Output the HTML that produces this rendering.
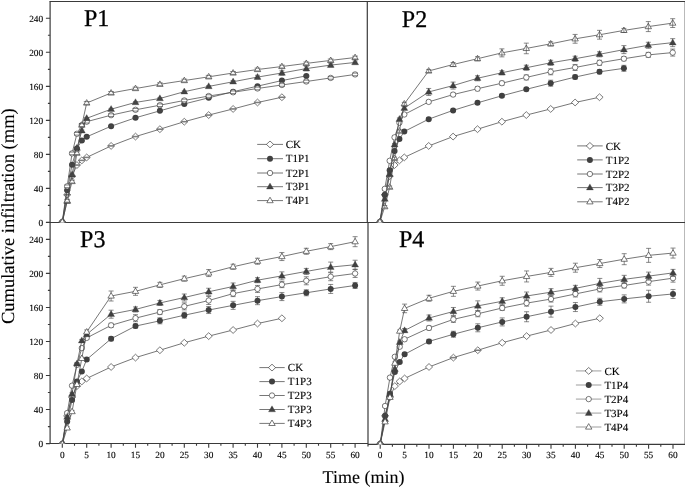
<!DOCTYPE html>
<html><head><meta charset="utf-8"><title>Cumulative infiltration</title>
<style>
html,body{margin:0;padding:0;background:#fff;}
body{width:685px;height:487px;overflow:hidden;font-family:"Liberation Serif",serif;}
svg{display:block;filter:grayscale(1);}
text{text-rendering:geometricPrecision;}
</style></head><body>
<svg width="685" height="487" viewBox="0 0 685 487">
<rect width="685" height="487" fill="#fff"/>
<g opacity="0.999">
<defs>
<clipPath id="c1"><rect x="50" y="1" width="317.3" height="221.5"/></clipPath>
<clipPath id="c2"><rect x="367.3" y="1" width="318" height="221.5"/></clipPath>
<clipPath id="c3"><rect x="50" y="222.5" width="318" height="221.0"/></clipPath>
<clipPath id="c4"><rect x="368" y="222.5" width="317" height="221.95"/></clipPath>
</defs>
<g stroke="#3a3a3a" stroke-width="1.2" fill="none">
<path d="M49.5 1.5H685"/>
<path d="M49.5 222.5H685"/>
<path d="M50.1 1.5V444.1"/>
<path d="M367.3 1.5V222.5"/>
<path d="M368 222.5V446.6"/>
<path d="M49.5 443.5H368"/>
<path d="M368 444.45H685"/>
<path d="M685.25 1.5V445"/>
</g>
<path d="M45.9 222.4H50.1M47.9 205.39H50.1M45.9 188.38H50.1M47.9 171.38H50.1M45.9 154.37H50.1M47.9 137.36H50.1M45.9 120.35H50.1M47.9 103.34H50.1M45.9 86.34H50.1M47.9 69.33H50.1M45.9 52.32H50.1M47.9 35.31H50.1M45.9 18.3H50.1M45.9 443.6H50.1M47.9 426.58H50.1M45.9 409.56H50.1M47.9 392.54H50.1M45.9 375.52H50.1M47.9 358.5H50.1M45.9 341.48H50.1M47.9 324.46H50.1M45.9 307.44H50.1M47.9 290.42H50.1M45.9 273.4H50.1M47.9 256.38H50.1M45.9 239.36H50.1M62.3 443.5V447.8M74.5 443.5V445.8M86.7 443.5V447.8M98.9 443.5V445.8M111.1 443.5V447.8M123.3 443.5V445.8M135.5 443.5V447.8M147.7 443.5V445.8M159.9 443.5V447.8M172.1 443.5V445.8M184.3 443.5V447.8M196.5 443.5V445.8M208.7 443.5V447.8M220.9 443.5V445.8M233.1 443.5V447.8M245.3 443.5V445.8M257.5 443.5V447.8M269.7 443.5V445.8M281.9 443.5V447.8M294.1 443.5V445.8M306.3 443.5V447.8M318.5 443.5V445.8M330.7 443.5V447.8M342.9 443.5V445.8M355.1 443.5V447.8M380.2 444.45V448.75M392.4 444.45V446.75M404.6 444.45V448.75M416.8 444.45V446.75M429 444.45V448.75M441.2 444.45V446.75M453.4 444.45V448.75M465.6 444.45V446.75M477.8 444.45V448.75M490 444.45V446.75M502.2 444.45V448.75M514.4 444.45V446.75M526.6 444.45V448.75M538.8 444.45V446.75M551 444.45V448.75M563.2 444.45V446.75M575.4 444.45V448.75M587.6 444.45V446.75M599.8 444.45V448.75M612 444.45V446.75M624.2 444.45V448.75M636.4 444.45V446.75M648.6 444.45V448.75M660.8 444.45V446.75M673 444.45V448.75" stroke="#3a3a3a" stroke-width="1.1" fill="none"/>
<g font-family="'Liberation Serif', serif" font-size="9.3" fill="#000" stroke="#000" stroke-width="0.12">
<text x="43.1" y="225.7" text-anchor="end">0</text>
<text x="43.1" y="191.68" text-anchor="end">40</text>
<text x="43.1" y="157.67" text-anchor="end">80</text>
<text x="43.1" y="123.65" text-anchor="end">120</text>
<text x="43.1" y="89.64" text-anchor="end">160</text>
<text x="43.1" y="55.62" text-anchor="end">200</text>
<text x="43.1" y="21.6" text-anchor="end">240</text>
<text x="43.1" y="446.9" text-anchor="end">0</text>
<text x="43.1" y="412.86" text-anchor="end">40</text>
<text x="43.1" y="378.82" text-anchor="end">80</text>
<text x="43.1" y="344.78" text-anchor="end">120</text>
<text x="43.1" y="310.74" text-anchor="end">160</text>
<text x="43.1" y="276.7" text-anchor="end">200</text>
<text x="43.1" y="242.66" text-anchor="end">240</text>
<text x="62.3" y="458.0" text-anchor="middle">0</text>
<text x="86.7" y="458.0" text-anchor="middle">5</text>
<text x="111.1" y="458.0" text-anchor="middle">10</text>
<text x="135.5" y="458.0" text-anchor="middle">15</text>
<text x="159.9" y="458.0" text-anchor="middle">20</text>
<text x="184.3" y="458.0" text-anchor="middle">25</text>
<text x="208.7" y="458.0" text-anchor="middle">30</text>
<text x="233.1" y="458.0" text-anchor="middle">35</text>
<text x="257.5" y="458.0" text-anchor="middle">40</text>
<text x="281.9" y="458.0" text-anchor="middle">45</text>
<text x="306.3" y="458.0" text-anchor="middle">50</text>
<text x="330.7" y="458.0" text-anchor="middle">55</text>
<text x="355.1" y="458.0" text-anchor="middle">60</text>
<text x="380.2" y="458.4" text-anchor="middle">0</text>
<text x="404.6" y="458.4" text-anchor="middle">5</text>
<text x="429" y="458.4" text-anchor="middle">10</text>
<text x="453.4" y="458.4" text-anchor="middle">15</text>
<text x="477.8" y="458.4" text-anchor="middle">20</text>
<text x="502.2" y="458.4" text-anchor="middle">25</text>
<text x="526.6" y="458.4" text-anchor="middle">30</text>
<text x="551" y="458.4" text-anchor="middle">35</text>
<text x="575.4" y="458.4" text-anchor="middle">40</text>
<text x="599.8" y="458.4" text-anchor="middle">45</text>
<text x="624.2" y="458.4" text-anchor="middle">50</text>
<text x="648.6" y="458.4" text-anchor="middle">55</text>
<text x="673" y="458.4" text-anchor="middle">60</text>
</g>
<g clip-path="url(#c1)">
<path d="M62.3 222L67.18 194.8L72.06 176.1L76.94 165.05L81.82 160.38L86.7 157.4L111.1 145.93L135.5 136.57L159.9 129.18L184.3 121.7L208.7 115.07L233.1 108.95L257.5 102.49L281.9 97.22" fill="none" stroke="#4a4a4a" stroke-width="0.75" stroke-linejoin="round"/>
<path d="M58.7 222L62.3 218.6L65.9 222L62.3 225.4Z" fill="#fff" stroke="#404040" stroke-width="0.7"/>
<path d="M63.58 194.8L67.18 191.4L70.78 194.8L67.18 198.2Z" fill="#fff" stroke="#404040" stroke-width="0.7"/>
<path d="M68.46 176.1L72.06 172.7L75.66 176.1L72.06 179.5Z" fill="#fff" stroke="#404040" stroke-width="0.7"/>
<path d="M73.34 165.05L76.94 161.65L80.54 165.05L76.94 168.45Z" fill="#fff" stroke="#404040" stroke-width="0.7"/>
<path d="M78.22 160.38L81.82 156.97L85.42 160.38L81.82 163.78Z" fill="#fff" stroke="#404040" stroke-width="0.7"/>
<path d="M83.1 157.4L86.7 154L90.3 157.4L86.7 160.8Z" fill="#fff" stroke="#404040" stroke-width="0.7"/>
<path d="M107.5 145.93L111.1 142.53L114.7 145.93L111.1 149.33Z" fill="#fff" stroke="#404040" stroke-width="0.7"/>
<path d="M131.9 136.57L135.5 133.17L139.1 136.57L135.5 139.97Z" fill="#fff" stroke="#404040" stroke-width="0.7"/>
<path d="M156.3 129.18L159.9 125.78L163.5 129.18L159.9 132.58Z" fill="#fff" stroke="#404040" stroke-width="0.7"/>
<path d="M180.7 121.7L184.3 118.3L187.9 121.7L184.3 125.1Z" fill="#fff" stroke="#404040" stroke-width="0.7"/>
<path d="M205.1 115.07L208.7 111.67L212.3 115.07L208.7 118.47Z" fill="#fff" stroke="#404040" stroke-width="0.7"/>
<path d="M229.5 108.95L233.1 105.55L236.7 108.95L233.1 112.35Z" fill="#fff" stroke="#404040" stroke-width="0.7"/>
<path d="M253.9 102.49L257.5 99.09L261.1 102.49L257.5 105.89Z" fill="#fff" stroke="#404040" stroke-width="0.7"/>
<path d="M278.3 97.22L281.9 93.82L285.5 97.22L281.9 100.62Z" fill="#fff" stroke="#404040" stroke-width="0.7"/>
<path d="M59.4 221.7H65.2M59.4 222.3H65.2M64.28 194.5H70.08M64.28 195.1H70.08M69.16 175.8H74.96M69.16 176.4H74.96M74.04 164.75H79.84M74.04 165.35H79.84M78.92 160.07H84.72M78.92 160.68H84.72M83.8 157.1H89.6M83.8 157.7H89.6M108.2 145.62H114M108.2 146.23H114M132.6 136.27H138.4M132.6 136.88H138.4M157 128.88H162.8M157 129.48H162.8M181.4 121.4H187.2M181.4 122H187.2M205.8 114.77H211.6M205.8 115.37H211.6M230.2 108.65H236M230.2 109.25H236M254.6 102.19H260.4M254.6 102.79H260.4M279 96.92H284.8M279 97.52H284.8" fill="none" stroke="#4a4a4a" stroke-width="0.65"/>
<path d="M62.3 222L67.18 190.3L72.06 164.71L76.94 148.39L81.82 140.57L86.7 136.83L111.1 126.2L135.5 117.79L159.9 110.82L184.3 103.94L208.7 97.82L233.1 91.69L257.5 86.17L281.9 80.56L306.3 75.88" fill="none" stroke="#4a4a4a" stroke-width="0.75" stroke-linejoin="round"/>
<circle cx="62.3" cy="222" r="3.0" fill="#404040"/>
<circle cx="67.18" cy="190.3" r="3.0" fill="#404040"/>
<circle cx="72.06" cy="164.71" r="3.0" fill="#404040"/>
<circle cx="76.94" cy="148.39" r="3.0" fill="#404040"/>
<circle cx="81.82" cy="140.57" r="3.0" fill="#404040"/>
<circle cx="86.7" cy="136.83" r="3.0" fill="#404040"/>
<circle cx="111.1" cy="126.2" r="3.0" fill="#404040"/>
<circle cx="135.5" cy="117.79" r="3.0" fill="#404040"/>
<circle cx="159.9" cy="110.82" r="3.0" fill="#404040"/>
<circle cx="184.3" cy="103.94" r="3.0" fill="#404040"/>
<circle cx="208.7" cy="97.82" r="3.0" fill="#404040"/>
<circle cx="233.1" cy="91.69" r="3.0" fill="#404040"/>
<circle cx="257.5" cy="86.17" r="3.0" fill="#404040"/>
<circle cx="281.9" cy="80.56" r="3.0" fill="#404040"/>
<circle cx="306.3" cy="75.88" r="3.0" fill="#404040"/>
<path d="M64.28 189.7H70.08M64.28 190.9H70.08M69.16 164.11H74.96M69.16 165.31H74.96M74.04 147.79H79.84M74.04 148.99H79.84M78.92 139.97H84.72M78.92 141.17H84.72M83.8 136.23H89.6M83.8 137.43H89.6M108.2 125.61H114M108.2 126.8H114M132.6 117.19H138.4M132.6 118.39H138.4M157 110.22H162.8M157 111.42H162.8M181.4 103.34H187.2M181.4 104.53H187.2M205.8 97.22H211.6M205.8 98.42H211.6M230.2 91.09H236M230.2 92.29H236M254.6 85.57H260.4M254.6 86.77H260.4M279 79.96H284.8M279 81.16H284.8M303.4 75.28H309.2M303.4 76.48H309.2" fill="none" stroke="#4a4a4a" stroke-width="0.65"/>
<path d="M62.3 222L67.18 186.3L72.06 153.41L76.94 133.77L81.82 125.1L86.7 121.7L111.1 115.16L135.5 109.8L159.9 105.21L184.3 100.45L208.7 96.03L233.1 92.29L257.5 88.47L281.9 84.98L306.3 81.5L330.7 77.93L355.1 74.44" fill="none" stroke="#4a4a4a" stroke-width="0.75" stroke-linejoin="round"/>
<circle cx="62.3" cy="222" r="2.7" fill="#fff" stroke="#404040" stroke-width="0.7"/>
<circle cx="67.18" cy="186.3" r="2.7" fill="#fff" stroke="#404040" stroke-width="0.7"/>
<circle cx="72.06" cy="153.41" r="2.7" fill="#fff" stroke="#404040" stroke-width="0.7"/>
<circle cx="76.94" cy="133.77" r="2.7" fill="#fff" stroke="#404040" stroke-width="0.7"/>
<circle cx="81.82" cy="125.1" r="2.7" fill="#fff" stroke="#404040" stroke-width="0.7"/>
<circle cx="86.7" cy="121.7" r="2.7" fill="#fff" stroke="#404040" stroke-width="0.7"/>
<circle cx="111.1" cy="115.16" r="2.7" fill="#fff" stroke="#404040" stroke-width="0.7"/>
<circle cx="135.5" cy="109.8" r="2.7" fill="#fff" stroke="#404040" stroke-width="0.7"/>
<circle cx="159.9" cy="105.21" r="2.7" fill="#fff" stroke="#404040" stroke-width="0.7"/>
<circle cx="184.3" cy="100.45" r="2.7" fill="#fff" stroke="#404040" stroke-width="0.7"/>
<circle cx="208.7" cy="96.03" r="2.7" fill="#fff" stroke="#404040" stroke-width="0.7"/>
<circle cx="233.1" cy="92.29" r="2.7" fill="#fff" stroke="#404040" stroke-width="0.7"/>
<circle cx="257.5" cy="88.47" r="2.7" fill="#fff" stroke="#404040" stroke-width="0.7"/>
<circle cx="281.9" cy="84.98" r="2.7" fill="#fff" stroke="#404040" stroke-width="0.7"/>
<circle cx="306.3" cy="81.5" r="2.7" fill="#fff" stroke="#404040" stroke-width="0.7"/>
<circle cx="330.7" cy="77.93" r="2.7" fill="#fff" stroke="#404040" stroke-width="0.7"/>
<circle cx="355.1" cy="74.44" r="2.7" fill="#fff" stroke="#404040" stroke-width="0.7"/>
<path d="M64.28 185H70.08M64.28 187.6H70.08M69.16 152.1H74.96M69.16 154.71H74.96M74.04 132.47H79.84M74.04 135.07H79.84M78.92 123.8H84.72M78.92 126.4H84.72M83.8 120.4H89.6M83.8 123H89.6M108.2 113.86H114M108.2 116.45H114M132.6 108.5H138.4M132.6 111.1H138.4M157 103.91H162.8M157 106.51H162.8M181.4 99.15H187.2M181.4 101.75H187.2M205.8 94.73H211.6M205.8 97.33H211.6M230.2 90.99H236M230.2 93.59H236M254.6 87.17H260.4M254.6 89.77H260.4M279 83.68H284.8M279 86.28H284.8M303.4 80.2H309.2M303.4 82.8H309.2M327.8 76.63H333.6M327.8 79.23H333.6M352.2 73.14H358M352.2 75.74H358" fill="none" stroke="#4a4a4a" stroke-width="0.65"/>
<path d="M62.3 222L67.18 201.09L72.06 174.74L76.94 148.05L81.82 130.8L86.7 118.3L111.1 109.21L135.5 102.41L159.9 98.49L184.3 91.69L208.7 86.43L233.1 81.75L257.5 77.08L281.9 73L306.3 68.58L330.7 65.09L355.1 62.46" fill="none" stroke="#4a4a4a" stroke-width="0.75" stroke-linejoin="round"/>
<path d="M58.8 224.3L62.3 218.3L65.8 224.3Z" fill="#404040" stroke="#404040" stroke-width="0.3"/>
<path d="M63.68 203.39L67.18 197.39L70.68 203.39Z" fill="#404040" stroke="#404040" stroke-width="0.3"/>
<path d="M68.56 177.04L72.06 171.04L75.56 177.04Z" fill="#404040" stroke="#404040" stroke-width="0.3"/>
<path d="M73.44 150.35L76.94 144.35L80.44 150.35Z" fill="#404040" stroke="#404040" stroke-width="0.3"/>
<path d="M78.32 133.1L81.82 127.1L85.32 133.1Z" fill="#404040" stroke="#404040" stroke-width="0.3"/>
<path d="M83.2 120.6L86.7 114.6L90.2 120.6Z" fill="#404040" stroke="#404040" stroke-width="0.3"/>
<path d="M107.6 111.51L111.1 105.51L114.6 111.51Z" fill="#404040" stroke="#404040" stroke-width="0.3"/>
<path d="M132 104.71L135.5 98.71L139 104.71Z" fill="#404040" stroke="#404040" stroke-width="0.3"/>
<path d="M156.4 100.79L159.9 94.79L163.4 100.79Z" fill="#404040" stroke="#404040" stroke-width="0.3"/>
<path d="M180.8 93.99L184.3 87.99L187.8 93.99Z" fill="#404040" stroke="#404040" stroke-width="0.3"/>
<path d="M205.2 88.73L208.7 82.73L212.2 88.73Z" fill="#404040" stroke="#404040" stroke-width="0.3"/>
<path d="M229.6 84.05L233.1 78.05L236.6 84.05Z" fill="#404040" stroke="#404040" stroke-width="0.3"/>
<path d="M254 79.38L257.5 73.38L261 79.38Z" fill="#404040" stroke="#404040" stroke-width="0.3"/>
<path d="M278.4 75.3L281.9 69.3L285.4 75.3Z" fill="#404040" stroke="#404040" stroke-width="0.3"/>
<path d="M302.8 70.88L306.3 64.88L309.8 70.88Z" fill="#404040" stroke="#404040" stroke-width="0.3"/>
<path d="M327.2 67.39L330.7 61.39L334.2 67.39Z" fill="#404040" stroke="#404040" stroke-width="0.3"/>
<path d="M351.6 64.76L355.1 58.76L358.6 64.76Z" fill="#404040" stroke="#404040" stroke-width="0.3"/>
<path d="M67.18 200.29V201.89M64.68 200.29H69.68M64.68 201.89H69.68M72.06 173.94V175.54M69.56 173.94H74.56M69.56 175.54H74.56M76.94 147.25V148.85M74.44 147.25H79.44M74.44 148.85H79.44M81.82 130V131.6M79.32 130H84.32M79.32 131.6H84.32M86.7 117.5V119.1M84.2 117.5H89.2M84.2 119.1H89.2M111.1 108.41V110.01M108.6 108.41H113.6M108.6 110.01H113.6M135.5 101.61V103.21M133 101.61H138M133 103.21H138M159.9 97.69V99.29M157.4 97.69H162.4M157.4 99.29H162.4M184.3 90.89V92.49M181.8 90.89H186.8M181.8 92.49H186.8M208.7 85.63V87.23M206.2 85.63H211.2M206.2 87.23H211.2M233.1 80.55V82.95M230.6 80.55H235.6M230.6 82.95H235.6M257.5 75.28V78.88M255 75.28H260M255 78.88H260M281.9 70.8V75.2M279.4 70.8H284.4M279.4 75.2H284.4M306.3 66.38V70.78M303.8 66.38H308.8M303.8 70.78H308.8M330.7 63.29V66.89M328.2 63.29H333.2M328.2 66.89H333.2M355.1 60.96V63.96M352.6 60.96H357.6M352.6 63.96H357.6" fill="none" stroke="#4a4a4a" stroke-width="0.65"/>
<path d="M62.3 222L67.18 200.75L72.06 181.54L76.94 153.15L81.82 125.1L86.7 103L111.1 92.97L135.5 88.55L159.9 84.3L184.3 80.56L208.7 76.82L233.1 73L257.5 69.51L281.9 66.53L306.3 63.39L330.7 60.42L355.1 57.53" fill="none" stroke="#4a4a4a" stroke-width="0.75" stroke-linejoin="round"/>
<path d="M59.1 224.1L62.3 218.6L65.5 224.1Z" fill="#fff" stroke="#404040" stroke-width="0.7"/>
<path d="M63.98 202.85L67.18 197.35L70.38 202.85Z" fill="#fff" stroke="#404040" stroke-width="0.7"/>
<path d="M68.86 183.64L72.06 178.14L75.26 183.64Z" fill="#fff" stroke="#404040" stroke-width="0.7"/>
<path d="M73.74 155.25L76.94 149.75L80.14 155.25Z" fill="#fff" stroke="#404040" stroke-width="0.7"/>
<path d="M78.62 127.2L81.82 121.7L85.02 127.2Z" fill="#fff" stroke="#404040" stroke-width="0.7"/>
<path d="M83.5 105.1L86.7 99.6L89.9 105.1Z" fill="#fff" stroke="#404040" stroke-width="0.7"/>
<path d="M107.9 95.07L111.1 89.57L114.3 95.07Z" fill="#fff" stroke="#404040" stroke-width="0.7"/>
<path d="M132.3 90.65L135.5 85.15L138.7 90.65Z" fill="#fff" stroke="#404040" stroke-width="0.7"/>
<path d="M156.7 86.4L159.9 80.9L163.1 86.4Z" fill="#fff" stroke="#404040" stroke-width="0.7"/>
<path d="M181.1 82.66L184.3 77.16L187.5 82.66Z" fill="#fff" stroke="#404040" stroke-width="0.7"/>
<path d="M205.5 78.92L208.7 73.42L211.9 78.92Z" fill="#fff" stroke="#404040" stroke-width="0.7"/>
<path d="M229.9 75.09L233.1 69.59L236.3 75.09Z" fill="#fff" stroke="#404040" stroke-width="0.7"/>
<path d="M254.3 71.61L257.5 66.11L260.7 71.61Z" fill="#fff" stroke="#404040" stroke-width="0.7"/>
<path d="M278.7 68.63L281.9 63.13L285.1 68.63Z" fill="#fff" stroke="#404040" stroke-width="0.7"/>
<path d="M303.1 65.49L306.3 59.99L309.5 65.49Z" fill="#fff" stroke="#404040" stroke-width="0.7"/>
<path d="M327.5 62.52L330.7 57.02L333.9 62.52Z" fill="#fff" stroke="#404040" stroke-width="0.7"/>
<path d="M351.9 59.62L355.1 54.12L358.3 59.62Z" fill="#fff" stroke="#404040" stroke-width="0.7"/>
<path d="M64.28 199.35H70.08M64.28 202.15H70.08M69.16 180.14H74.96M69.16 182.94H74.96M74.04 151.75H79.84M74.04 154.55H79.84M78.92 123.7H84.72M78.92 126.5H84.72M83.8 101.6H89.6M83.8 104.4H89.6M108.2 91.57H114M108.2 94.37H114M132.6 87.15H138.4M132.6 89.95H138.4M157 82.9H162.8M157 85.7H162.8M181.4 79.16H187.2M181.4 81.96H187.2M205.8 75.42H211.6M205.8 78.22H211.6M230.2 71.59H236M230.2 74.4H236M254.6 68.11H260.4M254.6 70.91H260.4M279 65.13H284.8M279 67.94H284.8M303.4 61.99H309.2M303.4 64.79H309.2M327.8 59.02H333.6M327.8 61.82H333.6M352.2 56.13H358M352.2 58.93H358" fill="none" stroke="#4a4a4a" stroke-width="0.65"/>
</g>
<g clip-path="url(#c2)">
<path d="M379.9 222L384.78 194.8L389.66 176.1L394.54 165.05L399.42 160.38L404.3 157.4L428.7 145.93L453.1 136.57L477.5 129.18L501.9 121.7L526.3 115.07L550.7 108.95L575.1 102.49L599.5 97.22" fill="none" stroke="#4a4a4a" stroke-width="0.75" stroke-linejoin="round"/>
<path d="M376.3 222L379.9 218.6L383.5 222L379.9 225.4Z" fill="#fff" stroke="#404040" stroke-width="0.7"/>
<path d="M381.18 194.8L384.78 191.4L388.38 194.8L384.78 198.2Z" fill="#fff" stroke="#404040" stroke-width="0.7"/>
<path d="M386.06 176.1L389.66 172.7L393.26 176.1L389.66 179.5Z" fill="#fff" stroke="#404040" stroke-width="0.7"/>
<path d="M390.94 165.05L394.54 161.65L398.14 165.05L394.54 168.45Z" fill="#fff" stroke="#404040" stroke-width="0.7"/>
<path d="M395.82 160.38L399.42 156.97L403.02 160.38L399.42 163.78Z" fill="#fff" stroke="#404040" stroke-width="0.7"/>
<path d="M400.7 157.4L404.3 154L407.9 157.4L404.3 160.8Z" fill="#fff" stroke="#404040" stroke-width="0.7"/>
<path d="M425.1 145.93L428.7 142.53L432.3 145.93L428.7 149.33Z" fill="#fff" stroke="#404040" stroke-width="0.7"/>
<path d="M449.5 136.57L453.1 133.17L456.7 136.57L453.1 139.97Z" fill="#fff" stroke="#404040" stroke-width="0.7"/>
<path d="M473.9 129.18L477.5 125.78L481.1 129.18L477.5 132.58Z" fill="#fff" stroke="#404040" stroke-width="0.7"/>
<path d="M498.3 121.7L501.9 118.3L505.5 121.7L501.9 125.1Z" fill="#fff" stroke="#404040" stroke-width="0.7"/>
<path d="M522.7 115.07L526.3 111.67L529.9 115.07L526.3 118.47Z" fill="#fff" stroke="#404040" stroke-width="0.7"/>
<path d="M547.1 108.95L550.7 105.55L554.3 108.95L550.7 112.35Z" fill="#fff" stroke="#404040" stroke-width="0.7"/>
<path d="M571.5 102.49L575.1 99.09L578.7 102.49L575.1 105.89Z" fill="#fff" stroke="#404040" stroke-width="0.7"/>
<path d="M595.9 97.22L599.5 93.82L603.1 97.22L599.5 100.62Z" fill="#fff" stroke="#404040" stroke-width="0.7"/>
<path d="M379.9 222L384.78 194.8L389.66 170.15L394.54 151.03L399.42 139.12L404.3 131.48L428.7 119.15L453.1 110.39L477.5 102.83L501.9 95.78L526.3 89.31L550.7 83.19L575.1 77.08L599.5 71.81L623.9 68.32" fill="none" stroke="#4a4a4a" stroke-width="0.75" stroke-linejoin="round"/>
<path d="M384.78 193.8V195.8M382.28 193.8H387.28M382.28 195.8H387.28M389.66 169.15V171.15M387.16 169.15H392.16M387.16 171.15H392.16M394.54 150.03V152.03M392.04 150.03H397.04M392.04 152.03H397.04M399.42 138.12V140.12M396.92 138.12H401.92M396.92 140.12H401.92M404.3 130.28V132.68M401.8 130.28H406.8M401.8 132.68H406.8M428.7 117.95V120.35M426.2 117.95H431.2M426.2 120.35H431.2M453.1 109.19V111.59M450.6 109.19H455.6M450.6 111.59H455.6M477.5 101.33V104.33M475 101.33H480M475 104.33H480M501.9 94.28V97.28M499.4 94.28H504.4M499.4 97.28H504.4M526.3 87.81V90.81M523.8 87.81H528.8M523.8 90.81H528.8M550.7 80.19V86.19M548.2 80.19H553.2M548.2 86.19H553.2M575.1 75.08V79.08M572.6 75.08H577.6M572.6 79.08H577.6M599.5 69.81V73.81M597 69.81H602M597 73.81H602M623.9 65.32V71.32M621.4 65.32H626.4M621.4 71.32H626.4" fill="none" stroke="#4a4a4a" stroke-width="0.65"/>
<circle cx="379.9" cy="222" r="3.0" fill="#404040"/>
<circle cx="384.78" cy="194.8" r="3.0" fill="#404040"/>
<circle cx="389.66" cy="170.15" r="3.0" fill="#404040"/>
<circle cx="394.54" cy="151.03" r="3.0" fill="#404040"/>
<circle cx="399.42" cy="139.12" r="3.0" fill="#404040"/>
<circle cx="404.3" cy="131.48" r="3.0" fill="#404040"/>
<circle cx="428.7" cy="119.15" r="3.0" fill="#404040"/>
<circle cx="453.1" cy="110.39" r="3.0" fill="#404040"/>
<circle cx="477.5" cy="102.83" r="3.0" fill="#404040"/>
<circle cx="501.9" cy="95.78" r="3.0" fill="#404040"/>
<circle cx="526.3" cy="89.31" r="3.0" fill="#404040"/>
<circle cx="550.7" cy="83.19" r="3.0" fill="#404040"/>
<circle cx="575.1" cy="77.08" r="3.0" fill="#404040"/>
<circle cx="599.5" cy="71.81" r="3.0" fill="#404040"/>
<circle cx="623.9" cy="68.32" r="3.0" fill="#404040"/>
<path d="M379.9 222L384.78 188.85L389.66 160.8L394.54 137.34L399.42 122.72L404.3 114.48L428.7 101.89L453.1 94.58L477.5 88.72L501.9 83.19L526.3 77.42L550.7 71.81L575.1 67.47L599.5 62.79L623.9 58.72L648.3 54.89L672.7 52.59" fill="none" stroke="#4a4a4a" stroke-width="0.75" stroke-linejoin="round"/>
<path d="M384.78 187.65V190.05M382.28 187.65H387.28M382.28 190.05H387.28M389.66 159.6V162M387.16 159.6H392.16M387.16 162H392.16M394.54 136.14V138.54M392.04 136.14H397.04M392.04 138.54H397.04M399.42 121.52V123.92M396.92 121.52H401.92M396.92 123.92H401.92M404.3 113.28V115.68M401.8 113.28H406.8M401.8 115.68H406.8M428.7 100.39V103.39M426.2 100.39H431.2M426.2 103.39H431.2M453.1 93.08V96.08M450.6 93.08H455.6M450.6 96.08H455.6M477.5 86.72V90.72M475 86.72H480M475 90.72H480M501.9 81.19V85.19M499.4 81.19H504.4M499.4 85.19H504.4M526.3 74.92V79.92M523.8 74.92H528.8M523.8 79.92H528.8M550.7 68.81V74.81M548.2 68.81H553.2M548.2 74.81H553.2M575.1 64.47V70.47M572.6 64.47H577.6M572.6 70.47H577.6M599.5 60.29V65.29M597 60.29H602M597 65.29H602M623.9 56.72V60.72M621.4 56.72H626.4M621.4 60.72H626.4M648.3 52.39V57.39M645.8 52.39H650.8M645.8 57.39H650.8M672.7 49.09V56.09M670.2 49.09H675.2M670.2 56.09H675.2" fill="none" stroke="#4a4a4a" stroke-width="0.65"/>
<circle cx="379.9" cy="222" r="2.7" fill="#fff" stroke="#404040" stroke-width="0.7"/>
<circle cx="384.78" cy="188.85" r="2.7" fill="#fff" stroke="#404040" stroke-width="0.7"/>
<circle cx="389.66" cy="160.8" r="2.7" fill="#fff" stroke="#404040" stroke-width="0.7"/>
<circle cx="394.54" cy="137.34" r="2.7" fill="#fff" stroke="#404040" stroke-width="0.7"/>
<circle cx="399.42" cy="122.72" r="2.7" fill="#fff" stroke="#404040" stroke-width="0.7"/>
<circle cx="404.3" cy="114.48" r="2.7" fill="#fff" stroke="#404040" stroke-width="0.7"/>
<circle cx="428.7" cy="101.89" r="2.7" fill="#fff" stroke="#404040" stroke-width="0.7"/>
<circle cx="453.1" cy="94.58" r="2.7" fill="#fff" stroke="#404040" stroke-width="0.7"/>
<circle cx="477.5" cy="88.72" r="2.7" fill="#fff" stroke="#404040" stroke-width="0.7"/>
<circle cx="501.9" cy="83.19" r="2.7" fill="#fff" stroke="#404040" stroke-width="0.7"/>
<circle cx="526.3" cy="77.42" r="2.7" fill="#fff" stroke="#404040" stroke-width="0.7"/>
<circle cx="550.7" cy="71.81" r="2.7" fill="#fff" stroke="#404040" stroke-width="0.7"/>
<circle cx="575.1" cy="67.47" r="2.7" fill="#fff" stroke="#404040" stroke-width="0.7"/>
<circle cx="599.5" cy="62.79" r="2.7" fill="#fff" stroke="#404040" stroke-width="0.7"/>
<circle cx="623.9" cy="58.72" r="2.7" fill="#fff" stroke="#404040" stroke-width="0.7"/>
<circle cx="648.3" cy="54.89" r="2.7" fill="#fff" stroke="#404040" stroke-width="0.7"/>
<circle cx="672.7" cy="52.59" r="2.7" fill="#fff" stroke="#404040" stroke-width="0.7"/>
<path d="M379.9 222L384.78 199.05L389.66 174.4L394.54 144.65L399.42 119.15L404.3 108.1L428.7 91.95L453.1 85.58L477.5 78.27L501.9 72.74L526.3 67.72L550.7 62.79L575.1 58.72L599.5 54.29L623.9 49.62L648.3 45.28L672.7 42.65" fill="none" stroke="#4a4a4a" stroke-width="0.75" stroke-linejoin="round"/>
<path d="M384.78 197.85V200.25M382.28 197.85H387.28M382.28 200.25H387.28M389.66 173.2V175.6M387.16 173.2H392.16M387.16 175.6H392.16M394.54 143.45V145.85M392.04 143.45H397.04M392.04 145.85H397.04M399.42 117.95V120.35M396.92 117.95H401.92M396.92 120.35H401.92M404.3 106.6V109.6M401.8 106.6H406.8M401.8 109.6H406.8M428.7 88.45V95.45M426.2 88.45H431.2M426.2 95.45H431.2M453.1 82.08V89.08M450.6 82.08H455.6M450.6 89.08H455.6M477.5 75.77V80.77M475 75.77H480M475 80.77H480M501.9 70.74V74.74M499.4 70.74H504.4M499.4 74.74H504.4M526.3 65.22V70.22M523.8 65.22H528.8M523.8 70.22H528.8M550.7 60.29V65.29M548.2 60.29H553.2M548.2 65.29H553.2M575.1 56.22V61.22M572.6 56.22H577.6M572.6 61.22H577.6M599.5 51.79V56.79M597 51.79H602M597 56.79H602M623.9 45.62V53.62M621.4 45.62H626.4M621.4 53.62H626.4M648.3 42.28V48.28M645.8 42.28H650.8M645.8 48.28H650.8M672.7 38.65V46.65M670.2 38.65H675.2M670.2 46.65H675.2" fill="none" stroke="#4a4a4a" stroke-width="0.65"/>
<path d="M376.4 224.3L379.9 218.3L383.4 224.3Z" fill="#404040" stroke="#404040" stroke-width="0.3"/>
<path d="M381.28 201.35L384.78 195.35L388.28 201.35Z" fill="#404040" stroke="#404040" stroke-width="0.3"/>
<path d="M386.16 176.7L389.66 170.7L393.16 176.7Z" fill="#404040" stroke="#404040" stroke-width="0.3"/>
<path d="M391.04 146.95L394.54 140.95L398.04 146.95Z" fill="#404040" stroke="#404040" stroke-width="0.3"/>
<path d="M395.92 121.45L399.42 115.45L402.92 121.45Z" fill="#404040" stroke="#404040" stroke-width="0.3"/>
<path d="M400.8 110.4L404.3 104.4L407.8 110.4Z" fill="#404040" stroke="#404040" stroke-width="0.3"/>
<path d="M425.2 94.25L428.7 88.25L432.2 94.25Z" fill="#404040" stroke="#404040" stroke-width="0.3"/>
<path d="M449.6 87.88L453.1 81.88L456.6 87.88Z" fill="#404040" stroke="#404040" stroke-width="0.3"/>
<path d="M474 80.57L477.5 74.57L481 80.57Z" fill="#404040" stroke="#404040" stroke-width="0.3"/>
<path d="M498.4 75.04L501.9 69.04L505.4 75.04Z" fill="#404040" stroke="#404040" stroke-width="0.3"/>
<path d="M522.8 70.02L526.3 64.02L529.8 70.02Z" fill="#404040" stroke="#404040" stroke-width="0.3"/>
<path d="M547.2 65.09L550.7 59.09L554.2 65.09Z" fill="#404040" stroke="#404040" stroke-width="0.3"/>
<path d="M571.6 61.02L575.1 55.02L578.6 61.02Z" fill="#404040" stroke="#404040" stroke-width="0.3"/>
<path d="M596 56.59L599.5 50.59L603 56.59Z" fill="#404040" stroke="#404040" stroke-width="0.3"/>
<path d="M620.4 51.92L623.9 45.92L627.4 51.92Z" fill="#404040" stroke="#404040" stroke-width="0.3"/>
<path d="M644.8 47.58L648.3 41.58L651.8 47.58Z" fill="#404040" stroke="#404040" stroke-width="0.3"/>
<path d="M669.2 44.95L672.7 38.95L676.2 44.95Z" fill="#404040" stroke="#404040" stroke-width="0.3"/>
<path d="M379.9 222L384.78 206.7L389.66 187.15L394.54 158.25L399.42 131.05L404.3 103.85L428.7 70.96L453.1 64.5L477.5 58.72L501.9 52.85L526.3 48.43L550.7 43.84L575.1 38.83L599.5 34.75L623.9 30.41L648.3 26.59L672.7 23.1" fill="none" stroke="#4a4a4a" stroke-width="0.75" stroke-linejoin="round"/>
<path d="M376.7 224.1L379.9 218.6L383.1 224.1Z" fill="#fff" stroke="#404040" stroke-width="0.7"/>
<path d="M381.58 208.8L384.78 203.3L387.98 208.8Z" fill="#fff" stroke="#404040" stroke-width="0.7"/>
<path d="M386.46 189.25L389.66 183.75L392.86 189.25Z" fill="#fff" stroke="#404040" stroke-width="0.7"/>
<path d="M391.34 160.35L394.54 154.85L397.74 160.35Z" fill="#fff" stroke="#404040" stroke-width="0.7"/>
<path d="M396.22 133.15L399.42 127.65L402.62 133.15Z" fill="#fff" stroke="#404040" stroke-width="0.7"/>
<path d="M401.1 105.95L404.3 100.45L407.5 105.95Z" fill="#fff" stroke="#404040" stroke-width="0.7"/>
<path d="M425.5 73.06L428.7 67.56L431.9 73.06Z" fill="#fff" stroke="#404040" stroke-width="0.7"/>
<path d="M449.9 66.59L453.1 61.09L456.3 66.59Z" fill="#fff" stroke="#404040" stroke-width="0.7"/>
<path d="M474.3 60.81L477.5 55.31L480.7 60.81Z" fill="#fff" stroke="#404040" stroke-width="0.7"/>
<path d="M498.7 54.95L501.9 49.45L505.1 54.95Z" fill="#fff" stroke="#404040" stroke-width="0.7"/>
<path d="M523.1 50.53L526.3 45.03L529.5 50.53Z" fill="#fff" stroke="#404040" stroke-width="0.7"/>
<path d="M547.5 45.94L550.7 40.44L553.9 45.94Z" fill="#fff" stroke="#404040" stroke-width="0.7"/>
<path d="M571.9 40.93L575.1 35.43L578.3 40.93Z" fill="#fff" stroke="#404040" stroke-width="0.7"/>
<path d="M596.3 36.84L599.5 31.35L602.7 36.84Z" fill="#fff" stroke="#404040" stroke-width="0.7"/>
<path d="M620.7 32.51L623.9 27.01L627.1 32.51Z" fill="#fff" stroke="#404040" stroke-width="0.7"/>
<path d="M645.1 28.69L648.3 23.19L651.5 28.69Z" fill="#fff" stroke="#404040" stroke-width="0.7"/>
<path d="M669.5 25.2L672.7 19.7L675.9 25.2Z" fill="#fff" stroke="#404040" stroke-width="0.7"/>
<path d="M384.78 205.5V207.9M382.28 205.5H387.28M382.28 207.9H387.28M389.66 185.95V188.35M387.16 185.95H392.16M387.16 188.35H392.16M394.54 157.05V159.45M392.04 157.05H397.04M392.04 159.45H397.04M399.42 129.85V132.25M396.92 129.85H401.92M396.92 132.25H401.92M404.3 102.35V105.35M401.8 102.35H406.8M401.8 105.35H406.8M428.7 69.46V72.46M426.2 69.46H431.2M426.2 72.46H431.2M453.1 62.5V66.5M450.6 62.5H455.6M450.6 66.5H455.6M477.5 56.72V60.72M475 56.72H480M475 60.72H480M501.9 48.85V56.85M499.4 48.85H504.4M499.4 56.85H504.4M526.3 43.13V53.73M523.8 43.13H528.8M523.8 53.73H528.8M550.7 41.84V45.84M548.2 41.84H553.2M548.2 45.84H553.2M575.1 34.43V43.23M572.6 34.43H577.6M572.6 43.23H577.6M599.5 30.35V39.15M597 30.35H602M597 39.15H602M623.9 28.41V32.41M621.4 28.41H626.4M621.4 32.41H626.4M648.3 21.59V31.59M645.8 21.59H650.8M645.8 31.59H650.8M672.7 18.7V27.5M670.2 18.7H675.2M670.2 27.5H675.2" fill="none" stroke="#4a4a4a" stroke-width="0.65"/>
</g>
<g clip-path="url(#c3)">
<path d="M62.3 443.9L67.18 415.85L72.06 397.15L76.94 386.1L81.82 381.42L86.7 378.45L111.1 366.97L135.5 357.62L159.9 350.23L184.3 342.75L208.7 336.12L233.1 330L257.5 323.54L281.9 318.27" fill="none" stroke="#4a4a4a" stroke-width="0.75" stroke-linejoin="round"/>
<path d="M58.7 443.9L62.3 440.5L65.9 443.9L62.3 447.3Z" fill="#fff" stroke="#404040" stroke-width="0.7"/>
<path d="M63.58 415.85L67.18 412.45L70.78 415.85L67.18 419.25Z" fill="#fff" stroke="#404040" stroke-width="0.7"/>
<path d="M68.46 397.15L72.06 393.75L75.66 397.15L72.06 400.55Z" fill="#fff" stroke="#404040" stroke-width="0.7"/>
<path d="M73.34 386.1L76.94 382.7L80.54 386.1L76.94 389.5Z" fill="#fff" stroke="#404040" stroke-width="0.7"/>
<path d="M78.22 381.42L81.82 378.02L85.42 381.42L81.82 384.82Z" fill="#fff" stroke="#404040" stroke-width="0.7"/>
<path d="M83.1 378.45L86.7 375.05L90.3 378.45L86.7 381.85Z" fill="#fff" stroke="#404040" stroke-width="0.7"/>
<path d="M107.5 366.97L111.1 363.57L114.7 366.97L111.1 370.37Z" fill="#fff" stroke="#404040" stroke-width="0.7"/>
<path d="M131.9 357.62L135.5 354.23L139.1 357.62L135.5 361.02Z" fill="#fff" stroke="#404040" stroke-width="0.7"/>
<path d="M156.3 350.23L159.9 346.83L163.5 350.23L159.9 353.63Z" fill="#fff" stroke="#404040" stroke-width="0.7"/>
<path d="M180.7 342.75L184.3 339.35L187.9 342.75L184.3 346.15Z" fill="#fff" stroke="#404040" stroke-width="0.7"/>
<path d="M205.1 336.12L208.7 332.72L212.3 336.12L208.7 339.52Z" fill="#fff" stroke="#404040" stroke-width="0.7"/>
<path d="M229.5 330L233.1 326.6L236.7 330L233.1 333.4Z" fill="#fff" stroke="#404040" stroke-width="0.7"/>
<path d="M253.9 323.54L257.5 320.14L261.1 323.54L257.5 326.94Z" fill="#fff" stroke="#404040" stroke-width="0.7"/>
<path d="M278.3 318.27L281.9 314.87L285.5 318.27L281.9 321.67Z" fill="#fff" stroke="#404040" stroke-width="0.7"/>
<path d="M62.3 443.9L67.18 421.38L72.06 400.12L76.94 381.59L81.82 371.39L86.7 359.5L111.1 338.75L135.5 326.09L159.9 320.82L184.3 315.21L208.7 310.02L233.1 305.35L257.5 300.67L281.9 296.59L306.3 292.77L330.7 288.94L355.1 285.46" fill="none" stroke="#4a4a4a" stroke-width="0.75" stroke-linejoin="round"/>
<path d="M67.18 420.38V422.38M64.68 420.38H69.68M64.68 422.38H69.68M72.06 399.12V401.12M69.56 399.12H74.56M69.56 401.12H74.56M76.94 380.59V382.59M74.44 380.59H79.44M74.44 382.59H79.44M81.82 370.39V372.39M79.32 370.39H84.32M79.32 372.39H84.32M86.7 358V361M84.2 358H89.2M84.2 361H89.2M111.1 336.75V340.75M108.6 336.75H113.6M108.6 340.75H113.6M135.5 324.09V328.09M133 324.09H138M133 328.09H138M159.9 317.82V323.82M157.4 317.82H162.4M157.4 323.82H162.4M184.3 312.21V318.21M181.8 312.21H186.8M181.8 318.21H186.8M208.7 306.52V313.52M206.2 306.52H211.2M206.2 313.52H211.2M233.1 301.35V309.35M230.6 301.35H235.6M230.6 309.35H235.6M257.5 296.67V304.67M255 296.67H260M255 304.67H260M281.9 292.59V300.59M279.4 292.59H284.4M279.4 300.59H284.4M306.3 289.77V295.77M303.8 289.77H308.8M303.8 295.77H308.8M330.7 284.44V293.44M328.2 284.44H333.2M328.2 293.44H333.2M355.1 282.46V288.46M352.6 282.46H357.6M352.6 288.46H357.6" fill="none" stroke="#4a4a4a" stroke-width="0.65"/>
<circle cx="62.3" cy="443.9" r="3.0" fill="#404040"/>
<circle cx="67.18" cy="421.38" r="3.0" fill="#404040"/>
<circle cx="72.06" cy="400.12" r="3.0" fill="#404040"/>
<circle cx="76.94" cy="381.59" r="3.0" fill="#404040"/>
<circle cx="81.82" cy="371.39" r="3.0" fill="#404040"/>
<circle cx="86.7" cy="359.5" r="3.0" fill="#404040"/>
<circle cx="111.1" cy="338.75" r="3.0" fill="#404040"/>
<circle cx="135.5" cy="326.09" r="3.0" fill="#404040"/>
<circle cx="159.9" cy="320.82" r="3.0" fill="#404040"/>
<circle cx="184.3" cy="315.21" r="3.0" fill="#404040"/>
<circle cx="208.7" cy="310.02" r="3.0" fill="#404040"/>
<circle cx="233.1" cy="305.35" r="3.0" fill="#404040"/>
<circle cx="257.5" cy="300.67" r="3.0" fill="#404040"/>
<circle cx="281.9" cy="296.59" r="3.0" fill="#404040"/>
<circle cx="306.3" cy="292.77" r="3.0" fill="#404040"/>
<circle cx="330.7" cy="288.94" r="3.0" fill="#404040"/>
<circle cx="355.1" cy="285.46" r="3.0" fill="#404040"/>
<path d="M62.3 443.9L67.18 413.04L72.06 385.67L76.94 364.85L81.82 348.1L86.7 337.9L111.1 325.32L135.5 318.18L159.9 312.06L184.3 306.37L208.7 300.5L233.1 293.62L257.5 288.94L281.9 284.61L306.3 280.78L330.7 276.7L355.1 273.48" fill="none" stroke="#4a4a4a" stroke-width="0.75" stroke-linejoin="round"/>
<path d="M67.18 411.84V414.24M64.68 411.84H69.68M64.68 414.24H69.68M72.06 384.47V386.87M69.56 384.47H74.56M69.56 386.87H74.56M76.94 363.65V366.05M74.44 363.65H79.44M74.44 366.05H79.44M81.82 346.9V349.3M79.32 346.9H84.32M79.32 349.3H84.32M86.7 336.4V339.4M84.2 336.4H89.2M84.2 339.4H89.2M111.1 323.32V327.32M108.6 323.32H113.6M108.6 327.32H113.6M135.5 314.68V321.68M133 314.68H138M133 321.68H138M159.9 309.56V314.56M157.4 309.56H162.4M157.4 314.56H162.4M184.3 302.87V309.87M181.8 302.87H186.8M181.8 309.87H186.8M208.7 296.5V304.5M206.2 296.5H211.2M206.2 304.5H211.2M233.1 290.62V296.62M230.6 290.62H235.6M230.6 296.62H235.6M257.5 285.44V292.44M255 285.44H260M255 292.44H260M281.9 281.61V287.61M279.4 281.61H284.4M279.4 287.61H284.4M306.3 276.78V284.78M303.8 276.78H308.8M303.8 284.78H308.8M330.7 272.7V280.7M328.2 272.7H333.2M328.2 280.7H333.2M355.1 269.48V277.48M352.6 269.48H357.6M352.6 277.48H357.6" fill="none" stroke="#4a4a4a" stroke-width="0.65"/>
<circle cx="62.3" cy="443.9" r="2.7" fill="#fff" stroke="#404040" stroke-width="0.7"/>
<circle cx="67.18" cy="413.04" r="2.7" fill="#fff" stroke="#404040" stroke-width="0.7"/>
<circle cx="72.06" cy="385.67" r="2.7" fill="#fff" stroke="#404040" stroke-width="0.7"/>
<circle cx="76.94" cy="364.85" r="2.7" fill="#fff" stroke="#404040" stroke-width="0.7"/>
<circle cx="81.82" cy="348.1" r="2.7" fill="#fff" stroke="#404040" stroke-width="0.7"/>
<circle cx="86.7" cy="337.9" r="2.7" fill="#fff" stroke="#404040" stroke-width="0.7"/>
<circle cx="111.1" cy="325.32" r="2.7" fill="#fff" stroke="#404040" stroke-width="0.7"/>
<circle cx="135.5" cy="318.18" r="2.7" fill="#fff" stroke="#404040" stroke-width="0.7"/>
<circle cx="159.9" cy="312.06" r="2.7" fill="#fff" stroke="#404040" stroke-width="0.7"/>
<circle cx="184.3" cy="306.37" r="2.7" fill="#fff" stroke="#404040" stroke-width="0.7"/>
<circle cx="208.7" cy="300.5" r="2.7" fill="#fff" stroke="#404040" stroke-width="0.7"/>
<circle cx="233.1" cy="293.62" r="2.7" fill="#fff" stroke="#404040" stroke-width="0.7"/>
<circle cx="257.5" cy="288.94" r="2.7" fill="#fff" stroke="#404040" stroke-width="0.7"/>
<circle cx="281.9" cy="284.61" r="2.7" fill="#fff" stroke="#404040" stroke-width="0.7"/>
<circle cx="306.3" cy="280.78" r="2.7" fill="#fff" stroke="#404040" stroke-width="0.7"/>
<circle cx="330.7" cy="276.7" r="2.7" fill="#fff" stroke="#404040" stroke-width="0.7"/>
<circle cx="355.1" cy="273.48" r="2.7" fill="#fff" stroke="#404040" stroke-width="0.7"/>
<path d="M62.3 443.9L67.18 416.95L72.06 394L76.94 363.66L81.82 340.62L86.7 334.42L111.1 314.19L135.5 309.43L159.9 302.97L184.3 297.53L208.7 291.75L233.1 286.48L257.5 280.19L281.9 275.86L306.3 271.43L330.7 267.1L355.1 264.72" fill="none" stroke="#4a4a4a" stroke-width="0.75" stroke-linejoin="round"/>
<path d="M67.18 415.75V418.15M64.68 415.75H69.68M64.68 418.15H69.68M72.06 392.81V395.2M69.56 392.81H74.56M69.56 395.2H74.56M76.94 362.46V364.86M74.44 362.46H79.44M74.44 364.86H79.44M81.82 339.43V341.82M79.32 339.43H84.32M79.32 341.82H84.32M86.7 332.92V335.92M84.2 332.92H89.2M84.2 335.92H89.2M111.1 310.19V318.19M108.6 310.19H113.6M108.6 318.19H113.6M135.5 306.93V311.93M133 306.93H138M133 311.93H138M159.9 300.47V305.47M157.4 300.47H162.4M157.4 305.47H162.4M184.3 294.03V301.03M181.8 294.03H186.8M181.8 301.03H186.8M208.7 288.25V295.25M206.2 288.25H211.2M206.2 295.25H211.2M233.1 282.98V289.98M230.6 282.98H235.6M230.6 289.98H235.6M257.5 277.69V282.69M255 277.69H260M255 282.69H260M281.9 271.86V279.86M279.4 271.86H284.4M279.4 279.86H284.4M306.3 268.43V274.43M303.8 268.43H308.8M303.8 274.43H308.8M330.7 262.1V272.1M328.2 262.1H333.2M328.2 272.1H333.2M355.1 260.22V269.22M352.6 260.22H357.6M352.6 269.22H357.6" fill="none" stroke="#4a4a4a" stroke-width="0.65"/>
<path d="M58.8 446.2L62.3 440.2L65.8 446.2Z" fill="#404040" stroke="#404040" stroke-width="0.3"/>
<path d="M63.68 419.25L67.18 413.25L70.68 419.25Z" fill="#404040" stroke="#404040" stroke-width="0.3"/>
<path d="M68.56 396.31L72.06 390.31L75.56 396.31Z" fill="#404040" stroke="#404040" stroke-width="0.3"/>
<path d="M73.44 365.96L76.94 359.96L80.44 365.96Z" fill="#404040" stroke="#404040" stroke-width="0.3"/>
<path d="M78.32 342.93L81.82 336.93L85.32 342.93Z" fill="#404040" stroke="#404040" stroke-width="0.3"/>
<path d="M83.2 336.72L86.7 330.72L90.2 336.72Z" fill="#404040" stroke="#404040" stroke-width="0.3"/>
<path d="M107.6 316.49L111.1 310.49L114.6 316.49Z" fill="#404040" stroke="#404040" stroke-width="0.3"/>
<path d="M132 311.73L135.5 305.73L139 311.73Z" fill="#404040" stroke="#404040" stroke-width="0.3"/>
<path d="M156.4 305.27L159.9 299.27L163.4 305.27Z" fill="#404040" stroke="#404040" stroke-width="0.3"/>
<path d="M180.8 299.83L184.3 293.83L187.8 299.83Z" fill="#404040" stroke="#404040" stroke-width="0.3"/>
<path d="M205.2 294.05L208.7 288.05L212.2 294.05Z" fill="#404040" stroke="#404040" stroke-width="0.3"/>
<path d="M229.6 288.78L233.1 282.78L236.6 288.78Z" fill="#404040" stroke="#404040" stroke-width="0.3"/>
<path d="M254 282.49L257.5 276.49L261 282.49Z" fill="#404040" stroke="#404040" stroke-width="0.3"/>
<path d="M278.4 278.16L281.9 272.16L285.4 278.16Z" fill="#404040" stroke="#404040" stroke-width="0.3"/>
<path d="M302.8 273.73L306.3 267.73L309.8 273.73Z" fill="#404040" stroke="#404040" stroke-width="0.3"/>
<path d="M327.2 269.4L330.7 263.4L334.2 269.4Z" fill="#404040" stroke="#404040" stroke-width="0.3"/>
<path d="M351.6 267.02L355.1 261.02L358.6 267.02Z" fill="#404040" stroke="#404040" stroke-width="0.3"/>
<path d="M62.3 443.9L67.18 427.92L72.06 411.6L76.94 384.4L81.82 358.39L86.7 331.95L111.1 296L135.5 291.32L159.9 284.87L184.3 278.66L208.7 273.05L233.1 266.76L257.5 261.24L281.9 256.56L306.3 251.29L330.7 246.61L355.1 241.68" fill="none" stroke="#4a4a4a" stroke-width="0.75" stroke-linejoin="round"/>
<path d="M67.18 426.72V429.12M64.68 426.72H69.68M64.68 429.12H69.68M72.06 410.4V412.8M69.56 410.4H74.56M69.56 412.8H74.56M76.94 383.2V385.6M74.44 383.2H79.44M74.44 385.6H79.44M81.82 357.19V359.59M79.32 357.19H84.32M79.32 359.59H84.32M86.7 329.95V333.95M84.2 329.95H89.2M84.2 333.95H89.2M111.1 291V301M108.6 291H113.6M108.6 301H113.6M135.5 287.32V295.32M133 287.32H138M133 295.32H138M159.9 282.37V287.37M157.4 282.37H162.4M157.4 287.37H162.4M184.3 276.16V281.16M181.8 276.16H186.8M181.8 281.16H186.8M208.7 269.55V276.55M206.2 269.55H211.2M206.2 276.55H211.2M233.1 264.26V269.26M230.6 264.26H235.6M230.6 269.26H235.6M257.5 258.24V264.24M255 258.24H260M255 264.24H260M281.9 252.56V260.56M279.4 252.56H284.4M279.4 260.56H284.4M306.3 248.29V254.29M303.8 248.29H308.8M303.8 254.29H308.8M330.7 243.61V249.61M328.2 243.61H333.2M328.2 249.61H333.2M355.1 236.68V246.68M352.6 236.68H357.6M352.6 246.68H357.6" fill="none" stroke="#4a4a4a" stroke-width="0.65"/>
<path d="M59.1 446L62.3 440.5L65.5 446Z" fill="#fff" stroke="#404040" stroke-width="0.7"/>
<path d="M63.98 430.02L67.18 424.52L70.38 430.02Z" fill="#fff" stroke="#404040" stroke-width="0.7"/>
<path d="M68.86 413.7L72.06 408.2L75.26 413.7Z" fill="#fff" stroke="#404040" stroke-width="0.7"/>
<path d="M73.74 386.5L76.94 381L80.14 386.5Z" fill="#fff" stroke="#404040" stroke-width="0.7"/>
<path d="M78.62 360.49L81.82 354.99L85.02 360.49Z" fill="#fff" stroke="#404040" stroke-width="0.7"/>
<path d="M83.5 334.06L86.7 328.56L89.9 334.06Z" fill="#fff" stroke="#404040" stroke-width="0.7"/>
<path d="M107.9 298.1L111.1 292.6L114.3 298.1Z" fill="#fff" stroke="#404040" stroke-width="0.7"/>
<path d="M132.3 293.43L135.5 287.93L138.7 293.43Z" fill="#fff" stroke="#404040" stroke-width="0.7"/>
<path d="M156.7 286.97L159.9 281.47L163.1 286.97Z" fill="#fff" stroke="#404040" stroke-width="0.7"/>
<path d="M181.1 280.76L184.3 275.26L187.5 280.76Z" fill="#fff" stroke="#404040" stroke-width="0.7"/>
<path d="M205.5 275.15L208.7 269.65L211.9 275.15Z" fill="#fff" stroke="#404040" stroke-width="0.7"/>
<path d="M229.9 268.86L233.1 263.36L236.3 268.86Z" fill="#fff" stroke="#404040" stroke-width="0.7"/>
<path d="M254.3 263.34L257.5 257.84L260.7 263.34Z" fill="#fff" stroke="#404040" stroke-width="0.7"/>
<path d="M278.7 258.66L281.9 253.16L285.1 258.66Z" fill="#fff" stroke="#404040" stroke-width="0.7"/>
<path d="M303.1 253.39L306.3 247.89L309.5 253.39Z" fill="#fff" stroke="#404040" stroke-width="0.7"/>
<path d="M327.5 248.72L330.7 243.22L333.9 248.72Z" fill="#fff" stroke="#404040" stroke-width="0.7"/>
<path d="M351.9 243.78L355.1 238.28L358.3 243.78Z" fill="#fff" stroke="#404040" stroke-width="0.7"/>
</g>
<g clip-path="url(#c4)">
<path d="M380.2 443.9L385.08 415.85L389.96 397.15L394.84 386.1L399.72 381.42L404.6 378.45L429 366.97L453.4 357.62L477.8 350.23L502.2 342.75L526.6 336.12L551 330L575.4 323.54L599.8 318.27" fill="none" stroke="#4a4a4a" stroke-width="0.75" stroke-linejoin="round"/>
<path d="M376.6 443.9L380.2 440.5L383.8 443.9L380.2 447.3Z" fill="#fff" stroke="#404040" stroke-width="0.7"/>
<path d="M381.48 415.85L385.08 412.45L388.68 415.85L385.08 419.25Z" fill="#fff" stroke="#404040" stroke-width="0.7"/>
<path d="M386.36 397.15L389.96 393.75L393.56 397.15L389.96 400.55Z" fill="#fff" stroke="#404040" stroke-width="0.7"/>
<path d="M391.24 386.1L394.84 382.7L398.44 386.1L394.84 389.5Z" fill="#fff" stroke="#404040" stroke-width="0.7"/>
<path d="M396.12 381.42L399.72 378.02L403.32 381.42L399.72 384.82Z" fill="#fff" stroke="#404040" stroke-width="0.7"/>
<path d="M401 378.45L404.6 375.05L408.2 378.45L404.6 381.85Z" fill="#fff" stroke="#404040" stroke-width="0.7"/>
<path d="M425.4 366.97L429 363.57L432.6 366.97L429 370.37Z" fill="#fff" stroke="#404040" stroke-width="0.7"/>
<path d="M449.8 357.62L453.4 354.23L457 357.62L453.4 361.02Z" fill="#fff" stroke="#404040" stroke-width="0.7"/>
<path d="M474.2 350.23L477.8 346.83L481.4 350.23L477.8 353.63Z" fill="#fff" stroke="#404040" stroke-width="0.7"/>
<path d="M498.6 342.75L502.2 339.35L505.8 342.75L502.2 346.15Z" fill="#fff" stroke="#404040" stroke-width="0.7"/>
<path d="M523 336.12L526.6 332.72L530.2 336.12L526.6 339.52Z" fill="#fff" stroke="#404040" stroke-width="0.7"/>
<path d="M547.4 330L551 326.6L554.6 330L551 333.4Z" fill="#fff" stroke="#404040" stroke-width="0.7"/>
<path d="M571.8 323.54L575.4 320.14L579 323.54L575.4 326.94Z" fill="#fff" stroke="#404040" stroke-width="0.7"/>
<path d="M596.2 318.27L599.8 314.87L603.4 318.27L599.8 321.67Z" fill="#fff" stroke="#404040" stroke-width="0.7"/>
<path d="M450.5 357.32H456.3M450.5 357.93H456.3M474.9 349.93H480.7M474.9 350.53H480.7" fill="none" stroke="#4a4a4a" stroke-width="0.65"/>
<path d="M380.2 443.9L385.08 415.85L389.96 393.75L394.84 371.99L399.72 361.96L404.6 354.31L429 341.39L453.4 334.25L477.8 327.79L502.2 321.92L526.6 316.74L551 311.64L575.4 307.05L599.8 301.78L624.2 298.89L648.6 296.25L673 293.96" fill="none" stroke="#4a4a4a" stroke-width="0.75" stroke-linejoin="round"/>
<path d="M385.08 414.85V416.85M382.58 414.85H387.58M382.58 416.85H387.58M389.96 392.75V394.75M387.46 392.75H392.46M387.46 394.75H392.46M394.84 370.99V372.99M392.34 370.99H397.34M392.34 372.99H397.34M399.72 360.96V362.96M397.22 360.96H402.22M397.22 362.96H402.22M404.6 352.81V355.81M402.1 352.81H407.1M402.1 355.81H407.1M429 339.39V343.39M426.5 339.39H431.5M426.5 343.39H431.5M453.4 331.25V337.25M450.9 331.25H455.9M450.9 337.25H455.9M477.8 323.79V331.79M475.3 323.79H480.3M475.3 331.79H480.3M502.2 317.92V325.92M499.7 317.92H504.7M499.7 325.92H504.7M526.6 311.74V321.74M524.1 311.74H529.1M524.1 321.74H529.1M551 306.14V317.14M548.5 306.14H553.5M548.5 317.14H553.5M575.4 302.55V311.55M572.9 302.55H577.9M572.9 311.55H577.9M599.8 298.28V305.28M597.3 298.28H602.3M597.3 305.28H602.3M624.2 294.89V302.89M621.7 294.89H626.7M621.7 302.89H626.7M648.6 290.25V302.25M646.1 290.25H651.1M646.1 302.25H651.1M673 289.46V298.46M670.5 289.46H675.5M670.5 298.46H675.5" fill="none" stroke="#4a4a4a" stroke-width="0.65"/>
<circle cx="380.2" cy="443.9" r="3.0" fill="#404040"/>
<circle cx="385.08" cy="415.85" r="3.0" fill="#404040"/>
<circle cx="389.96" cy="393.75" r="3.0" fill="#404040"/>
<circle cx="394.84" cy="371.99" r="3.0" fill="#404040"/>
<circle cx="399.72" cy="361.96" r="3.0" fill="#404040"/>
<circle cx="404.6" cy="354.31" r="3.0" fill="#404040"/>
<circle cx="429" cy="341.39" r="3.0" fill="#404040"/>
<circle cx="453.4" cy="334.25" r="3.0" fill="#404040"/>
<circle cx="477.8" cy="327.79" r="3.0" fill="#404040"/>
<circle cx="502.2" cy="321.92" r="3.0" fill="#404040"/>
<circle cx="526.6" cy="316.74" r="3.0" fill="#404040"/>
<circle cx="551" cy="311.64" r="3.0" fill="#404040"/>
<circle cx="575.4" cy="307.05" r="3.0" fill="#404040"/>
<circle cx="599.8" cy="301.78" r="3.0" fill="#404040"/>
<circle cx="624.2" cy="298.89" r="3.0" fill="#404040"/>
<circle cx="648.6" cy="296.25" r="3.0" fill="#404040"/>
<circle cx="673" cy="293.96" r="3.0" fill="#404040"/>
<path d="M380.2 443.9L385.08 405.99L389.96 377.6L394.84 356.77L399.72 346.75L404.6 339.26L429 327.96L453.4 319.38L477.8 313.76L502.2 307.99L526.6 303.14L551 299.06L575.4 293.96L599.8 288.94L624.2 285.46L648.6 281.63L673 278.15" fill="none" stroke="#4a4a4a" stroke-width="0.75" stroke-linejoin="round"/>
<path d="M385.08 404.79V407.19M382.58 404.79H387.58M382.58 407.19H387.58M389.96 376.4V378.8M387.46 376.4H392.46M387.46 378.8H392.46M394.84 355.57V357.97M392.34 355.57H397.34M392.34 357.97H397.34M399.72 345.55V347.94M397.22 345.55H402.22M397.22 347.94H402.22M404.6 337.76V340.76M402.1 337.76H407.1M402.1 340.76H407.1M429 325.96V329.96M426.5 325.96H431.5M426.5 329.96H431.5M453.4 316.38V322.38M450.9 316.38H455.9M450.9 322.38H455.9M477.8 310.76V316.76M475.3 310.76H480.3M475.3 316.76H480.3M502.2 305.49V310.49M499.7 305.49H504.7M499.7 310.49H504.7M526.6 300.14V306.14M524.1 300.14H529.1M524.1 306.14H529.1M551 296.06V302.06M548.5 296.06H553.5M548.5 302.06H553.5M575.4 290.96V296.96M572.9 290.96H577.9M572.9 296.96H577.9M599.8 285.94V291.94M597.3 285.94H602.3M597.3 291.94H602.3M624.2 282.96V287.96M621.7 282.96H626.7M621.7 287.96H626.7M648.6 278.13V285.13M646.1 278.13H651.1M646.1 285.13H651.1M673 274.15V282.15M670.5 274.15H675.5M670.5 282.15H675.5" fill="none" stroke="#4a4a4a" stroke-width="0.65"/>
<circle cx="380.2" cy="443.9" r="2.7" fill="#fff" stroke="#404040" stroke-width="0.7"/>
<circle cx="385.08" cy="405.99" r="2.7" fill="#fff" stroke="#404040" stroke-width="0.7"/>
<circle cx="389.96" cy="377.6" r="2.7" fill="#fff" stroke="#404040" stroke-width="0.7"/>
<circle cx="394.84" cy="356.77" r="2.7" fill="#fff" stroke="#404040" stroke-width="0.7"/>
<circle cx="399.72" cy="346.75" r="2.7" fill="#fff" stroke="#404040" stroke-width="0.7"/>
<circle cx="404.6" cy="339.26" r="2.7" fill="#fff" stroke="#404040" stroke-width="0.7"/>
<circle cx="429" cy="327.96" r="2.7" fill="#fff" stroke="#404040" stroke-width="0.7"/>
<circle cx="453.4" cy="319.38" r="2.7" fill="#fff" stroke="#404040" stroke-width="0.7"/>
<circle cx="477.8" cy="313.76" r="2.7" fill="#fff" stroke="#404040" stroke-width="0.7"/>
<circle cx="502.2" cy="307.99" r="2.7" fill="#fff" stroke="#404040" stroke-width="0.7"/>
<circle cx="526.6" cy="303.14" r="2.7" fill="#fff" stroke="#404040" stroke-width="0.7"/>
<circle cx="551" cy="299.06" r="2.7" fill="#fff" stroke="#404040" stroke-width="0.7"/>
<circle cx="575.4" cy="293.96" r="2.7" fill="#fff" stroke="#404040" stroke-width="0.7"/>
<circle cx="599.8" cy="288.94" r="2.7" fill="#fff" stroke="#404040" stroke-width="0.7"/>
<circle cx="624.2" cy="285.46" r="2.7" fill="#fff" stroke="#404040" stroke-width="0.7"/>
<circle cx="648.6" cy="281.63" r="2.7" fill="#fff" stroke="#404040" stroke-width="0.7"/>
<circle cx="673" cy="278.15" r="2.7" fill="#fff" stroke="#404040" stroke-width="0.7"/>
<path d="M380.2 443.9L385.08 419.25L389.96 394.17L394.84 369.1L399.72 342.24L404.6 330.51L429 318.01L453.4 311.47L477.8 305.86L502.2 301.27L526.6 296L551 292.17L575.4 288.35L599.8 283.42L624.2 279.34L648.6 276.11L673 272.88" fill="none" stroke="#4a4a4a" stroke-width="0.75" stroke-linejoin="round"/>
<path d="M385.08 418.05V420.45M382.58 418.05H387.58M382.58 420.45H387.58M389.96 392.97V395.37M387.46 392.97H392.46M387.46 395.37H392.46M394.84 367.9V370.3M392.34 367.9H397.34M392.34 370.3H397.34M399.72 341.04V343.44M397.22 341.04H402.22M397.22 343.44H402.22M404.6 328.51V332.51M402.1 328.51H407.1M402.1 332.51H407.1M429 315.01V321.01M426.5 315.01H431.5M426.5 321.01H431.5M453.4 307.47V315.47M450.9 307.47H455.9M450.9 315.47H455.9M477.8 300.86V310.86M475.3 300.86H480.3M475.3 310.86H480.3M502.2 297.77V304.77M499.7 297.77H504.7M499.7 304.77H504.7M526.6 292V300M524.1 292H529.1M524.1 300H529.1M551 288.67V295.67M548.5 288.67H553.5M548.5 295.67H553.5M575.4 285.35V291.35M572.9 285.35H577.9M572.9 291.35H577.9M599.8 278.42V288.42M597.3 278.42H602.3M597.3 288.42H602.3M624.2 275.34V283.34M621.7 275.34H626.7M621.7 283.34H626.7M648.6 272.11V280.11M646.1 272.11H651.1M646.1 280.11H651.1M673 269.38V276.38M670.5 269.38H675.5M670.5 276.38H675.5" fill="none" stroke="#4a4a4a" stroke-width="0.65"/>
<path d="M376.7 446.2L380.2 440.2L383.7 446.2Z" fill="#404040" stroke="#404040" stroke-width="0.3"/>
<path d="M381.58 421.55L385.08 415.55L388.58 421.55Z" fill="#404040" stroke="#404040" stroke-width="0.3"/>
<path d="M386.46 396.47L389.96 390.47L393.46 396.47Z" fill="#404040" stroke="#404040" stroke-width="0.3"/>
<path d="M391.34 371.4L394.84 365.4L398.34 371.4Z" fill="#404040" stroke="#404040" stroke-width="0.3"/>
<path d="M396.22 344.54L399.72 338.54L403.22 344.54Z" fill="#404040" stroke="#404040" stroke-width="0.3"/>
<path d="M401.1 332.81L404.6 326.81L408.1 332.81Z" fill="#404040" stroke="#404040" stroke-width="0.3"/>
<path d="M425.5 320.31L429 314.31L432.5 320.31Z" fill="#404040" stroke="#404040" stroke-width="0.3"/>
<path d="M449.9 313.77L453.4 307.77L456.9 313.77Z" fill="#404040" stroke="#404040" stroke-width="0.3"/>
<path d="M474.3 308.16L477.8 302.16L481.3 308.16Z" fill="#404040" stroke="#404040" stroke-width="0.3"/>
<path d="M498.7 303.57L502.2 297.57L505.7 303.57Z" fill="#404040" stroke="#404040" stroke-width="0.3"/>
<path d="M523.1 298.3L526.6 292.3L530.1 298.3Z" fill="#404040" stroke="#404040" stroke-width="0.3"/>
<path d="M547.5 294.47L551 288.47L554.5 294.47Z" fill="#404040" stroke="#404040" stroke-width="0.3"/>
<path d="M571.9 290.65L575.4 284.65L578.9 290.65Z" fill="#404040" stroke="#404040" stroke-width="0.3"/>
<path d="M596.3 285.72L599.8 279.72L603.3 285.72Z" fill="#404040" stroke="#404040" stroke-width="0.3"/>
<path d="M620.7 281.64L624.2 275.64L627.7 281.64Z" fill="#404040" stroke="#404040" stroke-width="0.3"/>
<path d="M645.1 278.41L648.6 272.41L652.1 278.41Z" fill="#404040" stroke="#404040" stroke-width="0.3"/>
<path d="M669.5 275.18L673 269.18L676.5 275.18Z" fill="#404040" stroke="#404040" stroke-width="0.3"/>
<path d="M380.2 443.9L385.08 421.8L389.96 397.32L394.84 363.15L399.72 331.11L404.6 308.41L429 298.29L453.4 291.32L477.8 286.05L502.2 280.78L526.6 276.45L551 272.37L575.4 267.69L599.8 263.53L624.2 259.19L648.6 255.37L673 253.07" fill="none" stroke="#4a4a4a" stroke-width="0.75" stroke-linejoin="round"/>
<path d="M385.08 420.6V423M382.58 420.6H387.58M382.58 423H387.58M389.96 396.12V398.52M387.46 396.12H392.46M387.46 398.52H392.46M394.84 361.95V364.35M392.34 361.95H397.34M392.34 364.35H397.34M399.72 329.91V332.31M397.22 329.91H402.22M397.22 332.31H402.22M404.6 304.11V312.71M402.1 304.11H407.1M402.1 312.71H407.1M429 295.29V301.29M426.5 295.29H431.5M426.5 301.29H431.5M453.4 286.32V296.32M450.9 286.32H455.9M450.9 296.32H455.9M477.8 282.05V290.05M475.3 282.05H480.3M475.3 290.05H480.3M502.2 276.28V285.28M499.7 276.28H504.7M499.7 285.28H504.7M526.6 270.95V281.95M524.1 270.95H529.1M524.1 281.95H529.1M551 268.37V276.37M548.5 268.37H553.5M548.5 276.37H553.5M575.4 263.19V272.19M572.9 263.19H577.9M572.9 272.19H577.9M599.8 259.53V267.53M597.3 259.53H602.3M597.3 267.53H602.3M624.2 253.69V264.69M621.7 253.69H626.7M621.7 264.69H626.7M648.6 248.37V262.37M646.1 248.37H651.1M646.1 262.37H651.1M673 248.07V258.07M670.5 248.07H675.5M670.5 258.07H675.5" fill="none" stroke="#4a4a4a" stroke-width="0.65"/>
<path d="M377 446L380.2 440.5L383.4 446Z" fill="#fff" stroke="#404040" stroke-width="0.7"/>
<path d="M381.88 423.9L385.08 418.4L388.28 423.9Z" fill="#fff" stroke="#404040" stroke-width="0.7"/>
<path d="M386.76 399.42L389.96 393.92L393.16 399.42Z" fill="#fff" stroke="#404040" stroke-width="0.7"/>
<path d="M391.64 365.25L394.84 359.75L398.04 365.25Z" fill="#fff" stroke="#404040" stroke-width="0.7"/>
<path d="M396.52 333.21L399.72 327.71L402.92 333.21Z" fill="#fff" stroke="#404040" stroke-width="0.7"/>
<path d="M401.4 310.51L404.6 305.01L407.8 310.51Z" fill="#fff" stroke="#404040" stroke-width="0.7"/>
<path d="M425.8 300.39L429 294.89L432.2 300.39Z" fill="#fff" stroke="#404040" stroke-width="0.7"/>
<path d="M450.2 293.43L453.4 287.93L456.6 293.43Z" fill="#fff" stroke="#404040" stroke-width="0.7"/>
<path d="M474.6 288.15L477.8 282.65L481 288.15Z" fill="#fff" stroke="#404040" stroke-width="0.7"/>
<path d="M499 282.88L502.2 277.38L505.4 282.88Z" fill="#fff" stroke="#404040" stroke-width="0.7"/>
<path d="M523.4 278.55L526.6 273.05L529.8 278.55Z" fill="#fff" stroke="#404040" stroke-width="0.7"/>
<path d="M547.8 274.47L551 268.97L554.2 274.47Z" fill="#fff" stroke="#404040" stroke-width="0.7"/>
<path d="M572.2 269.79L575.4 264.29L578.6 269.79Z" fill="#fff" stroke="#404040" stroke-width="0.7"/>
<path d="M596.6 265.63L599.8 260.13L603 265.63Z" fill="#fff" stroke="#404040" stroke-width="0.7"/>
<path d="M621 261.29L624.2 255.79L627.4 261.29Z" fill="#fff" stroke="#404040" stroke-width="0.7"/>
<path d="M645.4 257.47L648.6 251.97L651.8 257.47Z" fill="#fff" stroke="#404040" stroke-width="0.7"/>
<path d="M669.8 255.18L673 249.68L676.2 255.18Z" fill="#fff" stroke="#404040" stroke-width="0.7"/>
</g>
<g font-family="'Liberation Serif', serif" font-size="11" fill="#000">
<path d="M257.2 144.4H283.0" stroke="#4a4a4a" stroke-width="0.75"/>
<path d="M266.4 144.4L270 141L273.6 144.4L270 147.8Z" fill="#fff" stroke="#404040" stroke-width="0.7"/>
<text x="285.7" y="148" stroke="#000" stroke-width="0.12">CK</text>
<path d="M257.2 158.7H283.0" stroke="#4a4a4a" stroke-width="0.75"/>
<circle cx="270" cy="158.7" r="3.0" fill="#404040"/>
<text x="285.7" y="162.3" stroke="#000" stroke-width="0.12">T1P1</text>
<path d="M257.2 173.0H283.0" stroke="#4a4a4a" stroke-width="0.75"/>
<circle cx="270" cy="173" r="2.7" fill="#fff" stroke="#404040" stroke-width="0.7"/>
<text x="285.7" y="176.6" stroke="#000" stroke-width="0.12">T2P1</text>
<path d="M257.2 186.7H283.0" stroke="#4a4a4a" stroke-width="0.75"/>
<path d="M266.5 189L270 183L273.5 189Z" fill="#404040" stroke="#404040" stroke-width="0.3"/>
<text x="285.7" y="190.3" stroke="#000" stroke-width="0.12">T3P1</text>
<path d="M257.2 200.6H283.0" stroke="#4a4a4a" stroke-width="0.75"/>
<path d="M266.8 202.7L270 197.2L273.2 202.7Z" fill="#fff" stroke="#404040" stroke-width="0.7"/>
<text x="285.7" y="204.2" stroke="#000" stroke-width="0.12">T4P1</text>
<path d="M577.2 145.9H602.7" stroke="#4a4a4a" stroke-width="0.75"/>
<path d="M586.3 145.9L589.9 142.5L593.5 145.9L589.9 149.3Z" fill="#fff" stroke="#404040" stroke-width="0.7"/>
<text x="605.7" y="149.5" stroke="#000" stroke-width="0.12">CK</text>
<path d="M577.2 159.9H602.7" stroke="#4a4a4a" stroke-width="0.75"/>
<circle cx="589.9" cy="159.9" r="3.0" fill="#404040"/>
<text x="605.7" y="163.5" stroke="#000" stroke-width="0.12">T1P2</text>
<path d="M577.2 174.0H602.7" stroke="#4a4a4a" stroke-width="0.75"/>
<circle cx="589.9" cy="174" r="2.7" fill="#fff" stroke="#404040" stroke-width="0.7"/>
<text x="605.7" y="177.6" stroke="#000" stroke-width="0.12">T2P2</text>
<path d="M577.2 187.6H602.7" stroke="#4a4a4a" stroke-width="0.75"/>
<path d="M586.4 189.9L589.9 183.9L593.4 189.9Z" fill="#404040" stroke="#404040" stroke-width="0.3"/>
<text x="605.7" y="191.2" stroke="#000" stroke-width="0.12">T3P2</text>
<path d="M577.2 201.8H602.7" stroke="#4a4a4a" stroke-width="0.75"/>
<path d="M586.7 203.9L589.9 198.4L593.1 203.9Z" fill="#fff" stroke="#404040" stroke-width="0.7"/>
<text x="605.7" y="205.4" stroke="#000" stroke-width="0.12">T4P2</text>
<path d="M259.4 367.6H284.7" stroke="#4a4a4a" stroke-width="0.75"/>
<path d="M268.4 367.6L272 364.2L275.6 367.6L272 371Z" fill="#fff" stroke="#404040" stroke-width="0.7"/>
<text x="287.8" y="371.2" stroke="#000" stroke-width="0.12">CK</text>
<path d="M259.4 381.6H284.7" stroke="#4a4a4a" stroke-width="0.75"/>
<circle cx="272" cy="381.6" r="3.0" fill="#404040"/>
<text x="287.8" y="385.2" stroke="#000" stroke-width="0.12">T1P3</text>
<path d="M259.4 395.5H284.7" stroke="#4a4a4a" stroke-width="0.75"/>
<circle cx="272" cy="395.5" r="2.7" fill="#fff" stroke="#404040" stroke-width="0.7"/>
<text x="287.8" y="399.1" stroke="#000" stroke-width="0.12">T2P3</text>
<path d="M259.4 409.5H284.7" stroke="#4a4a4a" stroke-width="0.75"/>
<path d="M268.5 411.8L272 405.8L275.5 411.8Z" fill="#404040" stroke="#404040" stroke-width="0.3"/>
<text x="287.8" y="413.1" stroke="#000" stroke-width="0.12">T3P3</text>
<path d="M259.4 423.4H284.7" stroke="#4a4a4a" stroke-width="0.75"/>
<path d="M268.8 425.5L272 420L275.2 425.5Z" fill="#fff" stroke="#404040" stroke-width="0.7"/>
<text x="287.8" y="427" stroke="#000" stroke-width="0.12">T4P3</text>
<path d="M575.9 370.9H601.4" stroke="#b4b4b4" stroke-width="1.3"/>
<path d="M585.1 370.9L588.7 367.5L592.3 370.9L588.7 374.3Z" fill="#fff" stroke="#404040" stroke-width="0.7"/>
<text x="604.4" y="374.5" stroke="#000" stroke-width="0.12">CK</text>
<path d="M575.9 385.0H601.4" stroke="#b4b4b4" stroke-width="1.3"/>
<circle cx="588.7" cy="385" r="3.0" fill="#404040"/>
<text x="604.4" y="388.6" stroke="#000" stroke-width="0.12">T1P4</text>
<path d="M575.9 399.1H601.4" stroke="#b4b4b4" stroke-width="1.3"/>
<circle cx="588.7" cy="399.1" r="2.7" fill="#fff" stroke="#404040" stroke-width="0.7"/>
<text x="604.4" y="402.7" stroke="#000" stroke-width="0.12">T2P4</text>
<path d="M575.9 413.1H601.4" stroke="#b4b4b4" stroke-width="1.3"/>
<path d="M585.2 415.4L588.7 409.4L592.2 415.4Z" fill="#404040" stroke="#404040" stroke-width="0.3"/>
<text x="604.4" y="416.7" stroke="#000" stroke-width="0.12">T3P4</text>
<path d="M575.9 427.0H601.4" stroke="#b4b4b4" stroke-width="1.3"/>
<path d="M585.5 429.1L588.7 423.6L591.9 429.1Z" fill="#fff" stroke="#404040" stroke-width="0.7"/>
<text x="604.4" y="430.6" stroke="#000" stroke-width="0.12">T4P4</text>
</g>
<g font-family="'Liberation Serif', serif" font-size="24" fill="#000" stroke="#000" stroke-width="0.3">
<text x="83.9" y="26.3">P1</text>
<text x="401.8" y="26.9">P2</text>
<text x="80.1" y="247.0">P3</text>
<text x="398.9" y="247.3">P4</text>
</g>
<text x="363.5" y="482.7" text-anchor="middle" font-family="'Liberation Serif', serif" font-size="18" fill="#000" stroke="#000" stroke-width="0.12">Time (min)</text>
<text transform="translate(13.6 216.2) rotate(-90)" text-anchor="middle" font-family="'Liberation Serif', serif" font-size="18.5" fill="#000" stroke="#000" stroke-width="0.1">Cumulative infiltration (mm)</text>
</g>
</svg>
</body></html>
